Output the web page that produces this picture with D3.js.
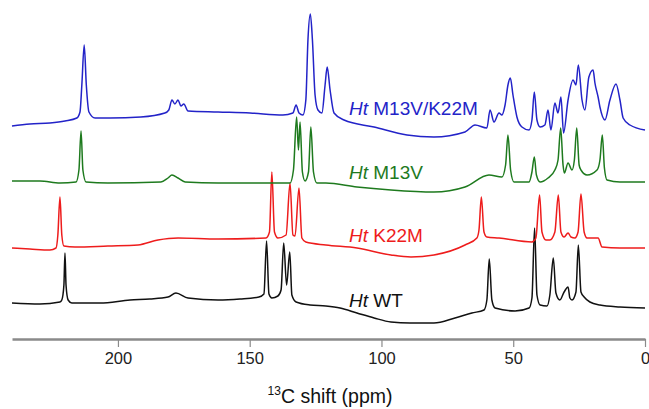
<!DOCTYPE html>
<html>
<head>
<meta charset="utf-8">
<script src="https://cdn.jsdelivr.net/npm/d3@7"></script>
<style>
  body { margin: 0; background: #fff; }
  svg { display: block; font-family: "Liberation Sans", Arial, sans-serif; }
</style>
</head>
<body>
<div id="chart"></div>
<script>
// spectra: [ppm, intensity above own baseline]
const wtSpectrum = [
  [240.2, 0], [229.6, -1], [222, 1], [221.3, 3], [220.5, 18], [220.1, 50], [219.7, 18], [218.9, 3],
  [217.5, 0], [206.8, 0], [195.4, 3], [187.9, 4], [181, 6], [178, 10], [173.4, 5], [162, 3],
  [153.7, 4], [146.5, 6], [144.6, 9], [143.6, 62], [142.7, 9], [141.6, 5], [139.3, 7], [138.1, 13],
  [137.1, 60], [136, 18], [134.8, 51], [134, 8], [132.4, 1], [127.1, -2], [121.1, -3], [115.7, -5],
  [109.3, -10], [102.8, -15], [96.4, -19], [89.2, -20], [80.1, -20], [72.1, -15], [65.7, -10],
  [61.1, -7], [60, 3], [59.1, 44], [58.1, 3], [56.9, -5], [49.3, -8], [44, -5], [42.9, 5],
  [41.9, 75], [41, 8], [39.8, -2], [37.2, -3], [36.1, 8], [34.8, 45], [33.8, 10], [32.3, 3],
  [30.7, 11], [29.2, 16], [28.5, 5], [27.7, 3], [26.2, 11], [25.3, 58], [24.3, 11], [23.1, 6],
  [20.9, 1], [17.1, -2], [9.5, -4], [0, -5]
];

const k22mSpectrum = [
  [240.2, 0], [233.4, -1], [225.8, -2], [223.5, 0], [222.8, 13], [222, 51], [221.3, 13], [220.5, 2],
  [216.3, 1], [203.8, 2], [192.4, 3], [184.8, 8], [177.2, 10], [162, 9], [143.8, 10], [142.5, 16],
  [141.6, 76], [140.6, 16], [139.3, 10], [136.2, 13], [134.7, 65], [133.6, 13], [132.8, 12],
  [131.3, 60], [130.2, 10], [128.7, 6], [121.1, 3], [109.3, 0], [96.4, -7], [88.8, -9], [80.1, -7],
  [68.3, 3], [63.8, 10], [63, 18], [62.1, 51], [61.1, 16], [60, 11], [55.4, 10], [42.9, 6],
  [41.4, 10], [40, 53], [39.1, 16], [37.6, 8], [36.1, 8], [34.2, 16], [32.9, 53], [31.9, 16],
  [30.7, 11], [29.2, 15], [28.1, 11], [26.6, 10], [25.4, 16], [24.3, 54], [23.1, 16], [22, 10],
  [17.8, 10], [16.3, 1], [9.5, 0], [0, 0]
];

const m13vSpectrum = [
  [240.2, 0], [229.6, 0], [222, -2], [215.9, -1], [214.8, 11], [214, 50], [213.3, 11], [212.1, -1],
  [203.8, -2], [183.7, -1], [181, 3], [179.5, 6], [177.2, 3], [174.5, -1], [162, -2], [134.7, -2],
  [133.4, 11], [132.2, 64], [131.5, 31], [130.9, 59], [130, 9], [129, 0], [127.7, 9], [126.8, 54],
  [125.8, 9], [124.5, -2], [121.1, -2], [109.3, -6], [96.4, -9], [80.1, -11], [68.3, -6],
  [59.2, 6], [54.3, 4], [52.9, 16], [52, 46], [51, 11], [49.7, -1], [44, -1], [42.9, 9], [42, 24],
  [41.2, 6], [39.8, -1], [36.8, 3], [34.2, 11], [33, 21], [32, 53], [31.1, 16], [30.6, 8],
  [29.2, 18], [27.7, 11], [26.8, 21], [25.9, 53], [25, 16], [24.3, 11], [22, 6], [18.2, 11],
  [17.1, 21], [16.2, 46], [15.4, 13], [14.4, 1], [9.5, -1], [0, -1]
];

const m13vK22mSpectrum = [
  [240.2, 0], [233.4, 2], [225.8, 3], [220.1, 5], [215.6, 8], [214.4, 14], [213.7, 41], [212.8, 81],
  [212, 41], [211, 14], [208.7, 8], [203, 8], [191.3, 9], [182.2, 13], [180.7, 16], [179.5, 26],
  [178.4, 22], [177.2, 26], [176.1, 20], [175, 22], [173.4, 15], [162, 14], [149.9, 13],
  [137.4, 11], [133.6, 13], [132.4, 21], [131.3, 13], [129.8, 11], [128.7, 26], [127.9, 86],
  [127, 112], [126.2, 86], [125.2, 31], [124.1, 16], [122.6, 13], [121.4, 41], [120.6, 59],
  [119.5, 36], [118, 13], [114.2, 6], [102.8, -1], [90.3, -9], [80.1, -11], [68.3, -6], [64.5, 1],
  [60, -2], [58.8, 16], [57.3, 4], [55.4, 13], [54.3, 11], [53.1, 21], [52, 41], [51.1, 48],
  [50.1, 31], [48.6, 9], [46.7, -1], [44, -4], [42.9, 6], [42, 34], [41, 6], [39.8, -1], [38, 1],
  [36.8, 16], [35.7, -4], [34.2, 23], [33, 13], [31.9, 29], [30.9, -7], [29.2, 26], [27.3, 46],
  [26.2, 41], [25.3, 61], [23.9, 26], [22.8, 16], [21.3, 49], [19.7, 56], [19, 43], [17.8, 29],
  [17.1, 19], [15.2, 6], [13.3, 26], [11, 42], [9.5, 26], [8.3, 8], [5.7, 1], [0, -4]
];

const seriesNames = ["WT", "K22M", "M13V", "M13V/K22M"];
const seriesColors = ["#111111", "#ee1c1c", "#1e7a1e", "#2323c8"];
const stackOffsets = [37, 92, 159, 214]; // vertical stacking, intensity units
const labelLevels = [33, 98, 161, 225];  // label baseline, intensity units
const xTicks = [200, 150, 100, 50, 0];

const spectra = [wtSpectrum, k22mSpectrum, m13vSpectrum, m13vK22mSpectrum];

const width = 649;
const height = 409;

const svg = d3.select("#chart").append("svg")
  .attr("width", width)
  .attr("height", height);

const x = d3.scaleLinear().domain([240.2, 0]).range([12, 645]);
const y = d3.scaleLinear().domain([0, 330]).range([340, 10]);

// spectra
spectra.forEach((spec, i) => {
  const line = d3.line()
    .curve(d3.curveMonotoneX)
    .x((d) => x(d[0]))
    .y((d) => y(d[1] + stackOffsets[i]));
  svg.append("path")
    .datum(spec)
    .attr("fill", "none")
    .attr("stroke", seriesColors[i])
    .attr("stroke-width", 1.5)
    .attr("stroke-linejoin", "round")
    .attr("d", line);

  const label = svg.append("text")
    .attr("x", 349)
    .attr("y", y(labelLevels[i]))
    .attr("fill", seriesColors[i])
    .attr("font-size", 19);
  label.append("tspan").attr("font-style", "italic").text("Ht");
  label.append("tspan").text(" " + seriesNames[i]);
});

// x axis
const xAxis = svg.append("g")
  .attr("transform", `translate(0, 339)`)
  .call(d3.axisBottom(x).tickValues(xTicks).tickSize(8).tickSizeOuter(0).tickPadding(5));

xAxis.select(".domain").attr("stroke", "#8a8a8a").attr("stroke-width", 2.5);
xAxis.selectAll(".tick line").attr("stroke", "#8a8a8a").attr("stroke-width", 1.2);
xAxis.selectAll(".tick text")
  .attr("font-size", 16.5)
  .attr("fill", "#222")
  .attr("font-family", "'Liberation Sans', Arial, sans-serif");

const axisLabel = svg.append("text")
  .attr("x", 330)
  .attr("y", 403)
  .attr("text-anchor", "middle")
  .attr("font-size", 19.5)
  .attr("fill", "#111");
axisLabel.append("tspan").attr("font-size", 12).attr("dy", -8).text("13");
axisLabel.append("tspan").attr("dy", 8).text("C shift (ppm)");
</script>
</body>
</html>
